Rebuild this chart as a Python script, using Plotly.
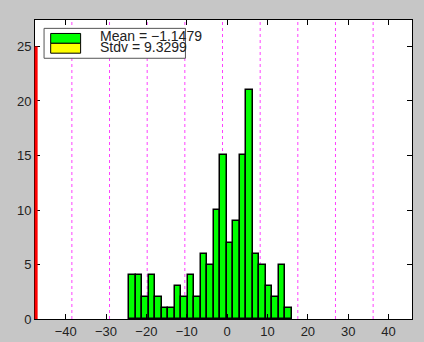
import plotly.graph_objects as go

# Histogram data
bin_start = -24.2
bin_width = 1.61
counts = [4, 4, 2, 4, 2, 1, 1, 3, 2, 4, 2, 6, 5, 10, 15, 7, 9, 15, 21, 6, 5, 3, 2, 5, 1]
mean_val = -1.1479
std_val = 9.3299
sigma_steps = [-4, -3, -2, -1, 0, 1, 2, 3, 4]
x_ticks = [-40, -30, -20, -10, 0, 10, 20, 30, 40]
y_ticks = [0, 5, 10, 15, 20, 25]
x_range = [-47.6, 45.8]
y_range = [0, 27.43]

centers = [bin_start + bin_width * (i + 0.5) for i in range(len(counts))]

fig = go.Figure()
fig.add_trace(go.Bar(
    x=centers, y=counts, width=bin_width,
    marker=dict(color="#00ff00", line=dict(color="black", width=1.5)),
    showlegend=False,
))

shapes = []
for k in sigma_steps:
    xv = mean_val + k * std_val
    shapes.append(dict(type="line", xref="x", yref="paper", x0=xv, x1=xv, y0=0, y1=1,
                       line=dict(color="#ff40ff", width=1, dash="dot"), layer="below"))
# red left bar
shapes.append(dict(type="line", xref="paper", yref="y", x0=0.003, x1=0.003, y0=0, y1=25,
                   line=dict(color="#ff0000", width=3)))
# legend box
shapes.append(dict(type="rect", xref="paper", yref="paper", x0=0.024, x1=0.399, y0=0.872, y1=0.972,
                   line=dict(color="#555555", width=1), fillcolor="white"))
shapes.append(dict(type="rect", xref="paper", yref="paper", x0=0.0416, x1=0.121, y0=0.922, y1=0.955,
                   line=dict(color="black", width=1), fillcolor="#00ff00"))
shapes.append(dict(type="rect", xref="paper", yref="paper", x0=0.0416, x1=0.121, y0=0.889, y1=0.922,
                   line=dict(color="black", width=1), fillcolor="#ffff00"))

annotations = [
    dict(xref="paper", yref="paper", x=0.172, y=0.946, xanchor="left", yanchor="middle",
         text=f"Mean = \u2212{abs(mean_val):.4f}", showarrow=False, borderpad=0, xshift=-1,
         font=dict(family="Liberation Sans, Arial", size=14, color="#222222")),
    dict(xref="paper", yref="paper", x=0.172, y=0.909, xanchor="left", yanchor="middle",
         text=f"Stdv = {std_val:.4f}", showarrow=False, borderpad=0, xshift=-1,
         font=dict(family="Liberation Sans, Arial", size=14, color="#222222")),
]

fig.update_layout(
    width=424, height=342,
    margin=dict(l=35, r=12, t=20, b=23),
    paper_bgcolor="#c6c6c6",
    plot_bgcolor="white",
    bargap=0,
    shapes=shapes,
    annotations=annotations,
    font=dict(family="Liberation Sans, Arial", size=13, color="#222222"),
    xaxis=dict(range=x_range, tickvals=x_ticks, ticks="inside", ticklen=5, tickcolor="black",
               showgrid=False, zeroline=False, showline=True, linecolor="black", linewidth=1,
               mirror="ticks", tickfont=dict(size=13), automargin=False),
    yaxis=dict(range=y_range, tickvals=y_ticks, ticks="inside", ticklen=5, tickcolor="black",
               showgrid=False, zeroline=False, showline=True, linecolor="black", linewidth=1,
               mirror="ticks", tickfont=dict(size=13), automargin=False),
)

fig.write_html("out.html")
